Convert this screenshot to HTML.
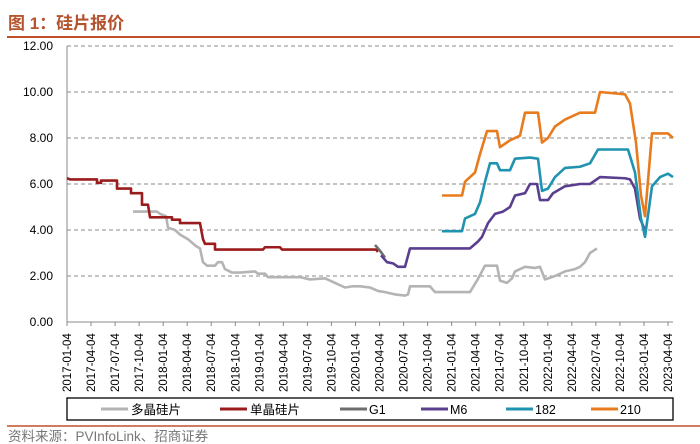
<!DOCTYPE html>
<html><head><meta charset="utf-8"><style>
html,body{margin:0;padding:0;background:#fff;width:700px;height:444px;overflow:hidden}
svg text{font-family:"Liberation Sans","Noto Sans CJK SC",sans-serif}
.l{fill:none;stroke-width:2.6;vector-effect:non-scaling-stroke;stroke-linejoin:round}
</style></head><body>
<svg width="700" height="444" xmlns="http://www.w3.org/2000/svg">
<text x="8" y="29" font-size="17" font-weight="bold" fill="#b5532e">图 1：硅片报价</text>
<line x1="7" y1="37" x2="700" y2="37" stroke="#c0502a" stroke-width="2"/>
<g stroke="#888" stroke-dasharray="4,3" stroke-width="1">
<line x1="67" y1="46" x2="673" y2="46"/><line x1="67" y1="92" x2="673" y2="92"/>
<line x1="67" y1="138" x2="673" y2="138"/><line x1="67" y1="184" x2="673" y2="184"/>
<line x1="67" y1="230" x2="673" y2="230"/><line x1="67" y1="276" x2="673" y2="276"/>
</g>
<line x1="67" y1="46" x2="67" y2="322" stroke="#888"/>
<line x1="67" y1="322" x2="673" y2="322" stroke="#888"/>
<g font-size="12" text-anchor="end" fill="#000">
<text x="53" y="50">12.00</text><text x="53" y="96">10.00</text><text x="53" y="142">8.00</text>
<text x="53" y="188">6.00</text><text x="53" y="234">4.00</text><text x="53" y="280">2.00</text><text x="53" y="326">0.00</text>
</g>
<g id="ticks" stroke="#888"></g>
<g id="xl" font-size="11.5" fill="#000"></g>
<g transform="translate(0,322) scale(1,-23)">
<polyline class="l" stroke="#b4b4b4" points="133,4.8 157,4.8 160,4.7 166,4.6 168,4.1 175,4.0 180,3.8 188,3.6 196,3.3 200,3.2 203,2.6 207,2.45 215,2.45 218,2.6 222,2.6 225,2.3 232,2.15 240,2.15 255,2.2 258,2.1 265,2.1 268,1.95 300,1.95 310,1.85 325,1.9 330,1.8 335,1.7 345,1.5 352,1.55 360,1.55 370,1.5 378,1.35 385,1.3 395,1.2 405,1.15 408,1.2 410,1.55 430,1.55 435,1.3 470,1.3 477,1.8 482,2.2 485,2.45 497,2.45 500,1.8 507,1.7 512,1.9 515,2.2 525,2.4 535,2.35 540,2.4 545,1.85 555,2.0 565,2.2 575,2.3 580,2.4 585,2.6 590,3.0 597,3.2"/>
<polyline class="l" stroke="#9b1c1c" points="67,6.25 70,6.2 97,6.2 97,6.05 101,6.05 101,6.15 117,6.15 117,5.8 131,5.8 131,5.6 142,5.6 142,5.1 148,5.1 150,4.55 172,4.55 172,4.45 180,4.45 180,4.3 200,4.3 203,3.6 205,3.4 215,3.4 215,3.15 263,3.15 265,3.25 280,3.25 282,3.15 376,3.15 378,3.05"/>
<polyline class="l" stroke="#6e6e6e" points="375,3.35 380,3.1 385,2.8"/>
<polyline class="l" stroke="#5b3f8f" points="381,2.9 387,2.6 393,2.55 398,2.4 405,2.4 410,3.2 470,3.2 478,3.5 482,3.7 488,4.3 495,4.7 503,4.8 510,5.0 515,5.5 525,5.6 530,6.0 537,6.0 540,5.3 548,5.3 553,5.6 565,5.9 580,6.0 590,6.0 600,6.3 625,6.25 630,6.2 635,5.8 640,4.5 645,4.0"/>
<polyline class="l" stroke="#1f93b0" points="442,3.95 462,3.95 465,4.5 475,4.7 480,5.2 485,6.1 490,6.9 497,6.9 500,6.6 510,6.6 515,7.1 530,7.15 538,7.1 542,5.7 548,5.8 555,6.3 565,6.7 580,6.75 590,6.9 598,7.5 628,7.5 635,6.5 641,4.5 645,3.7 652,5.9 660,6.3 668,6.45 673,6.3"/>
<polyline class="l" stroke="#e87b1e" points="442,5.5 462,5.5 465,6.1 475,6.5 480,7.3 487,8.3 497,8.3 500,7.6 510,7.9 520,8.1 525,9.1 538,9.1 542,7.8 548,8.0 555,8.5 565,8.8 580,9.1 595,9.1 600,10.0 625,9.9 630,9.5 636,7.8 641,5.5 645,4.6 652,8.2 668,8.2 673,8.0"/>
</g>
<rect x="67" y="398" width="606" height="22" fill="none" stroke="#000" stroke-width="1.3"/>
<g font-size="12.5" fill="#000">
<line x1="101" y1="409" x2="128" y2="409" stroke="#b4b4b4" stroke-width="3"/><text x="131" y="414">多晶硅片</text>
<line x1="220" y1="409" x2="247" y2="409" stroke="#9b1c1c" stroke-width="3"/><text x="250" y="414">单晶硅片</text>
<line x1="340" y1="409" x2="367" y2="409" stroke="#6e6e6e" stroke-width="3"/><text x="369" y="414">G1</text>
<line x1="421" y1="409" x2="448" y2="409" stroke="#5b3f8f" stroke-width="3"/><text x="450" y="414">M6</text>
<line x1="506" y1="409" x2="533" y2="409" stroke="#1f93b0" stroke-width="3"/><text x="535" y="414">182</text>
<line x1="591" y1="409" x2="618" y2="409" stroke="#e87b1e" stroke-width="3"/><text x="620" y="414">210</text>
</g>
<line x1="7" y1="426" x2="700" y2="426" stroke="#c0502a" stroke-width="1.5"/>
<text x="8" y="441" font-size="13.5" fill="#777">资料来源：PVInfoLink、招商证券</text>
</svg>
<script>
var labels=[];for(var y=2017;y<=2023;y++)for(var m of["01","04","07","10"]){labels.push(y+"-"+m+"-04");}
labels=labels.slice(0,26);
var t=document.getElementById("ticks"),xl=document.getElementById("xl"),ns="http://www.w3.org/2000/svg";
labels.forEach(function(s,i){var x=67+i*24.04;
var l=document.createElementNS(ns,"line");l.setAttribute("x1",x);l.setAttribute("x2",x);l.setAttribute("y1",322);l.setAttribute("y2",326);t.appendChild(l);
var tx=document.createElementNS(ns,"text");tx.setAttribute("transform","translate("+(x+4)+",392) rotate(-90)");tx.textContent=s;xl.appendChild(tx);});
</script>
</body></html>
